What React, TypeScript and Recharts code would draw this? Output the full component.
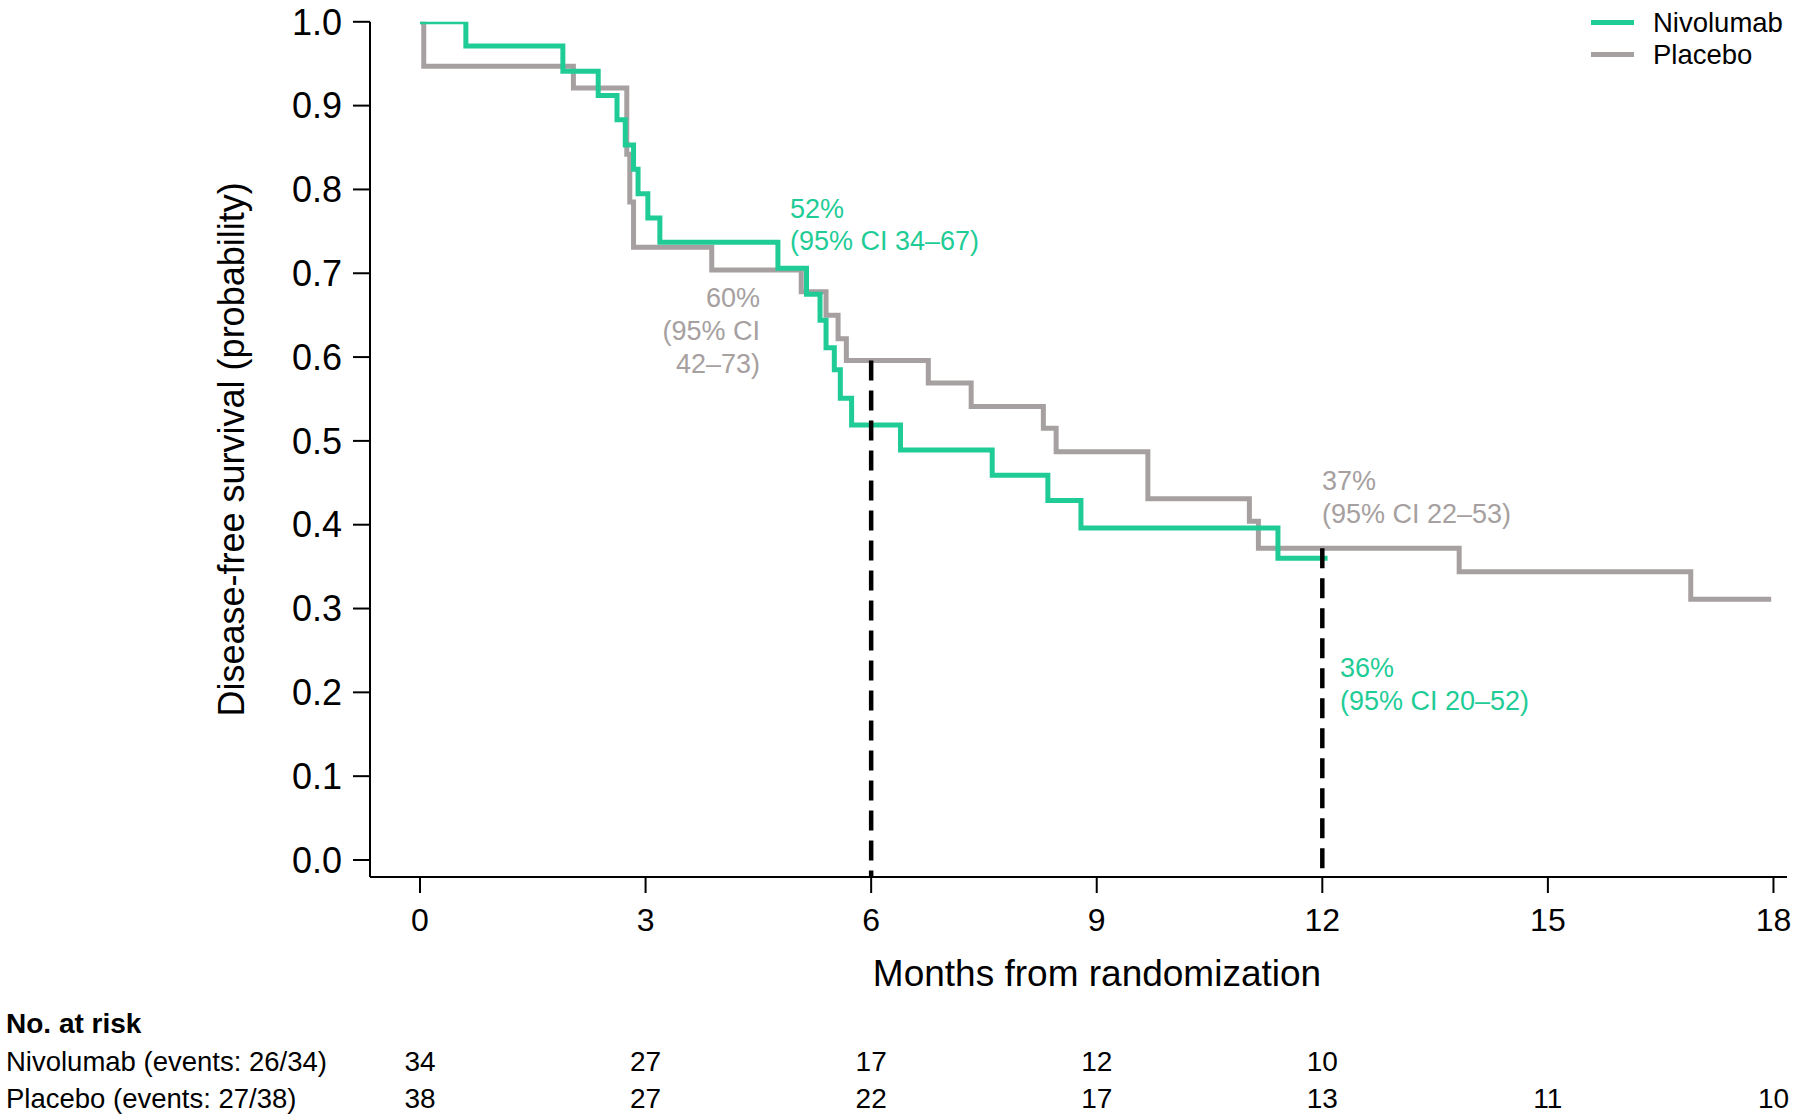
import React from 'react';
import { LineChart, Line, XAxis, YAxis, ReferenceLine } from 'recharts';

// ---- Data ----
const nivoTimes = [0, 0.61, 1.9, 2.37, 2.62, 2.73, 2.84, 2.9, 3.03, 3.19, 4.76, 5.14, 5.32, 5.4, 5.51, 5.59, 5.74, 6.39, 7.61, 8.35, 8.79, 11.41, 12.07];
const nivoSurv = [1.0, 0.971, 0.941, 0.912, 0.883, 0.853, 0.824, 0.795, 0.766, 0.737, 0.706, 0.675, 0.644, 0.611, 0.585, 0.551, 0.519, 0.489, 0.459, 0.429, 0.396, 0.36, 0.36];

const placTimes = [0, 0.05, 2.04, 2.75, 2.79, 2.84, 3.88, 5.07, 5.4, 5.56, 5.67, 6.76, 7.33, 8.29, 8.46, 9.68, 11.03, 11.15, 13.82, 16.9, 17.97];
const placSurv = [1.0, 0.947, 0.921, 0.842, 0.785, 0.731, 0.704, 0.678, 0.65, 0.622, 0.596, 0.569, 0.541, 0.515, 0.487, 0.431, 0.404, 0.372, 0.344, 0.311, 0.311];

const monthTicks = [0, 3, 6, 9, 12, 15, 18];
const survTicks = [0, 0.1, 0.2, 0.3, 0.4, 0.5, 0.6, 0.7, 0.8, 0.9, 1.0];

const nivoRiskMonths = [0, 3, 6, 9, 12];
const nivoRiskCounts = [34, 27, 17, 12, 10];
const placRiskMonths = [0, 3, 6, 9, 12, 15, 18];
const placRiskCounts = [38, 27, 22, 17, 13, 11, 10];

// landmark estimates
const landmark6 = { month: 6, value: 0.596 };
const landmark12 = { month: 12, value: 0.372 };

const GREEN = '#1fcc96';
const GRAY = '#a6a0a0';
const FONT = '"Liberation Sans", Arial, Helvetica, sans-serif';

const nivoData = nivoTimes.map((t, i) => ({ t, s: nivoSurv[i] }));
const placData = placTimes.map((t, i) => ({ t, s: placSurv[i] }));

const X_DOMAIN: [number, number] = [-0.665, 18.18];
const Y_MIN = -0.0203;

export default function App() {
  return (
    <div style={{ position: 'absolute', left: 0, top: 0, width: 1800, height: 1120, background: '#fff', fontFamily: FONT }}>
      <LineChart width={1800} height={1120} margin={{ top: 21.8, right: 13, bottom: 23, left: 270 }}>
        <XAxis
          xAxisId="main"
          type="number"
          dataKey="t"
          domain={X_DOMAIN}
          allowDataOverflow
          ticks={monthTicks}
          interval={0}
          height={150}
          tickSize={16}
          tickMargin={15}
          stroke="#000"
          strokeWidth={2}
          tick={{ fontSize: 32, fill: '#000' }}
          label={{ value: 'Months from randomization', position: 'center', dx: 18.5, dy: 21, fontSize: 37, fill: '#000' }}
        />
        <XAxis
          xAxisId="nivo"
          type="number"
          dataKey="t"
          domain={X_DOMAIN}
          allowDataOverflow
          ticks={nivoRiskMonths}
          interval={0}
          height={35}
          tickSize={0}
          tickMargin={24}
          axisLine={false}
          tickLine={false}
          tick={{ fontSize: 28, fill: '#000' }}
          tickFormatter={(v: number) => String(nivoRiskCounts[nivoRiskMonths.indexOf(v)])}
        />
        <XAxis
          xAxisId="plac"
          type="number"
          dataKey="t"
          domain={X_DOMAIN}
          allowDataOverflow
          ticks={placRiskMonths}
          interval={0}
          height={35}
          tickSize={0}
          tickMargin={26}
          axisLine={false}
          tickLine={false}
          tick={{ fontSize: 28, fill: '#000' }}
          tickFormatter={(v: number) => String(placRiskCounts[placRiskMonths.indexOf(v)])}
        />
        <YAxis
          type="number"
          domain={[Y_MIN, 1]}
          allowDataOverflow
          ticks={survTicks}
          interval={0}
          width={100}
          tickSize={17}
          tickMargin={11}
          stroke="#000"
          strokeWidth={2}
          tick={{ fontSize: 36, fill: '#000' }}
          tickFormatter={(v: number) => v.toFixed(1)}
          label={{ value: 'Disease-free survival (probability)', angle: -90, position: 'center', dx: -89, fontSize: 36, fill: '#000' }}
        />
        <Line
          xAxisId="main"
          data={placData}
          dataKey="s"
          type="stepAfter"
          stroke={GRAY}
          strokeWidth={5}
          dot={false}
          activeDot={false}
          isAnimationActive={false}
        />
        <Line
          xAxisId="main"
          data={nivoData}
          dataKey="s"
          type="stepAfter"
          stroke={GREEN}
          strokeWidth={5}
          dot={false}
          activeDot={false}
          isAnimationActive={false}
        />
        <ReferenceLine
          xAxisId="main"
          segment={[{ x: landmark6.month, y: landmark6.value }, { x: landmark6.month, y: Y_MIN }]}
          stroke="#000"
          strokeWidth={4.5}
          strokeDasharray="20 10"
          ifOverflow="visible"
        />
        <ReferenceLine
          xAxisId="main"
          segment={[{ x: landmark12.month, y: landmark12.value }, { x: landmark12.month, y: Y_MIN }]}
          stroke="#000"
          strokeWidth={4.5}
          strokeDasharray="20 10"
          ifOverflow="visible"
        />
      </LineChart>
      <svg width={1800} height={1120} style={{ position: 'absolute', left: 0, top: 0, pointerEvents: 'none', fontFamily: FONT }}>
        {/* legend */}
        <line x1={1591} x2={1634} y1={22.5} y2={22.5} stroke={GREEN} strokeWidth={5} />
        <text x={1653} y={31.7} fontSize={27.5} fill="#000">Nivolumab</text>
        <line x1={1591} x2={1634} y1={54.5} y2={54.5} stroke={GRAY} strokeWidth={5} />
        <text x={1653} y={64} fontSize={27.5} fill="#000">Placebo</text>

        {/* annotations */}
        <text x={790} y={217.5} fontSize={27} fill={GREEN}>52%</text>
        <text x={790} y={249.5} fontSize={27} fill={GREEN}>(95% CI 34–67)</text>
        <text x={760} y={306.5} fontSize={27} fill={GRAY} textAnchor="end">60%</text>
        <text x={760} y={339.5} fontSize={27} fill={GRAY} textAnchor="end">(95% CI</text>
        <text x={760} y={372.5} fontSize={27} fill={GRAY} textAnchor="end">42–73)</text>
        <text x={1322} y={489.5} fontSize={27} fill={GRAY}>37%</text>
        <text x={1322} y={522.5} fontSize={27} fill={GRAY}>(95% CI 22–53)</text>
        <text x={1340} y={676.5} fontSize={27} fill={GREEN}>36%</text>
        <text x={1340} y={709.5} fontSize={27} fill={GREEN}>(95% CI 20–52)</text>

        {/* at-risk table headers */}
        <text x={6} y={1032.5} fontSize={28} fontWeight="bold" fill="#000">No. at risk</text>
        <text x={6} y={1071} fontSize={27.5} fill="#000">Nivolumab (events: 26/34)</text>
        <text x={6} y={1108} fontSize={27.5} fill="#000">Placebo (events: 27/38)</text>
      </svg>
    </div>
  );
}
